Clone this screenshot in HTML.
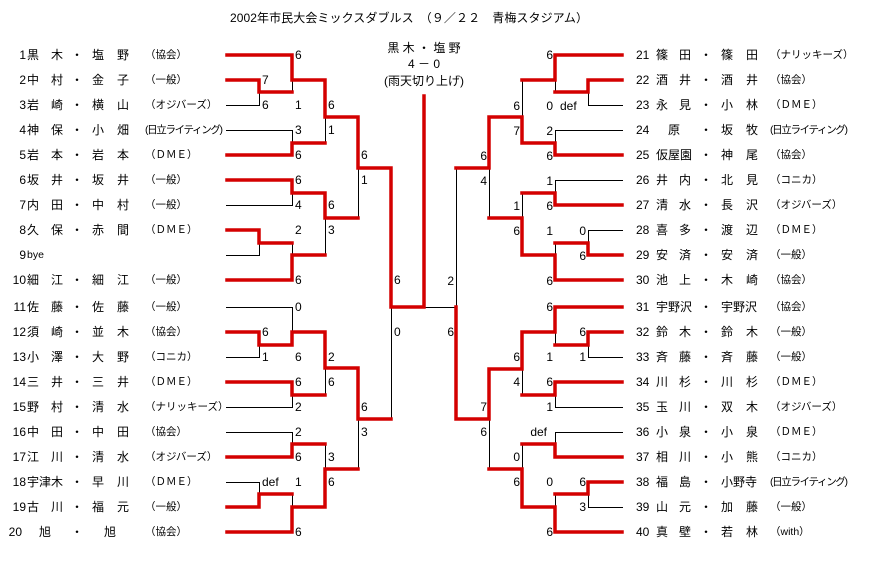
<!DOCTYPE html>
<html><head><meta charset="utf-8"><style>
html,body{margin:0;padding:0;background:#fff;width:882px;height:575px;overflow:hidden}
svg{display:block}
text{font-family:"Liberation Sans","Noto Sans CJK JP",sans-serif;font-size:12px;fill:#000;dominant-baseline:central}
.n{font-family:"Liberation Sans","Noto Sans CJK JP",sans-serif;font-size:12px}
.a{font-size:10.5px}
.r{fill:none;stroke:#d40000;stroke-width:3.5;stroke-linejoin:miter;stroke-linecap:square}
.t{fill:none;stroke:#000;stroke-width:1}
</style></head><body>
<svg width="882" height="575" viewBox="0 0 882 575" xmlns="http://www.w3.org/2000/svg">
<text x="230" y="18" textLength="358">2002年市民大会ミックスダブルス　（９／２２　青梅スタジアム）</text>
<text x="424" y="48" text-anchor="middle">黒 木 ・ 塩 野</text>
<text x="424" y="64" text-anchor="middle">4 － 0</text>
<text x="424" y="81" text-anchor="middle">(雨天切り上げ)</text>

<!-- thin lines -->
<g class="t">
<path d="M226 105.5H259.5V92 M292.5 80V92 M226 130.5H292.5V143 M325.5 117V143 M292.5 193V205.5H226 M226 255.5H259.5V243 M292.5 243V255 M325.5 218V255 M358.5 168V218 M391.5 307V419"/>
<path d="M226 307.5H292.5V332 M226 357.5H259.5V345 M292.5 395V407.5H226 M325.5 368V395 M226 432.5H292.5V444 M325.5 444V469 M226 482.5H259.5V494 M292.5 494V507 M358.5 419V469"/>
<path d="M555.5 80V92 M623 105.5H588.5V92 M623 130.5H555.5V143 M522.5 80V117 M623 180.5H555.5V193 M623 230.5H588.5V243 M555.5 243V255 M522.5 193V218 M489.5 168V218 M456.5 168V307.5H424"/>
<path d="M555.5 332V345 M623 357.5H588.5V345 M522.5 369V395 M623 407.5H555.5V395 M623 432.5H555.5V444 M522.5 444V469 M489.5 419V469 M588.5 494V507.5H623 M555.5 494V507"/>
</g>
<!-- red lines -->
<g class="r">
<path d="M227 55H292V80H325V117H358V168H391V307H424V96"/>
<path d="M227 80H259V92H292"/>
<path d="M227 155H292V143H325"/>
<path d="M227 180H292V193H325V218H358"/>
<path d="M227 230H259V243H292"/>
<path d="M227 280H292V255H325"/>
<path d="M227 332H259V345H292V332H325V368H358V419H391"/>
<path d="M227 382H292V395H325"/>
<path d="M227 457H292V444H325"/>
<path d="M227 507H259V494H292"/>
<path d="M227 532H292V507H325V469H358"/>
<path d="M622 55H555V80H522"/>
<path d="M622 80H588V92H555"/>
<path d="M622 155H555V143H522V117H489V168H456"/>
<path d="M622 205H555V193H522"/>
<path d="M622 255H588V243H555"/>
<path d="M622 280H555V255H522V218H489"/>
<path d="M622 307H555V332H522V369H489V419H456V307"/>
<path d="M622 332H588V345H555"/>
<path d="M622 382H555V395H522"/>
<path d="M622 457H555V444H522"/>
<path d="M622 482H588V494H555"/>
<path d="M622 532H555V507H522V469H489"/>
</g>

<!-- left scores -->
<g>
<text x="295" y="55">6</text><text x="295" y="105">1</text><text x="295" y="130">3</text><text x="295" y="155">6</text>
<text x="295" y="180">6</text><text x="295" y="205">4</text><text x="295" y="230">2</text><text x="295" y="280">6</text>
<text x="262" y="80">7</text><text x="262" y="105">6</text>
<text x="328" y="105">6</text><text x="328" y="130">1</text><text x="328" y="205">6</text><text x="328" y="230">3</text>
<text x="361" y="155">6</text><text x="361" y="180">1</text>
<text x="394" y="280">6</text><text x="394" y="332">0</text>
<text x="295" y="307">0</text><text x="295" y="357">6</text><text x="295" y="382">6</text><text x="295" y="407">2</text>
<text x="295" y="432">2</text><text x="295" y="457">6</text><text x="295" y="482">1</text><text x="295" y="532">6</text>
<text x="262" y="332">6</text><text x="262" y="357">1</text><text x="262" y="482">def</text>
<text x="328" y="357">2</text><text x="328" y="382">6</text><text x="328" y="457">3</text><text x="328" y="482">6</text>
<text x="361" y="407">6</text><text x="361" y="432">3</text>
</g>
<!-- right scores -->
<g text-anchor="end">
<text x="454" y="281">2</text><text x="454" y="332">6</text>
<text x="553" y="55">6</text><text x="520" y="106">6</text><text x="553" y="106">0</text>
<text x="520" y="131">7</text><text x="553" y="131">2</text><text x="553" y="156">6</text>
<text x="487" y="156">6</text><text x="487" y="181">4</text>
<text x="553" y="181">1</text><text x="553" y="206">6</text>
<text x="520" y="206">1</text><text x="520" y="231">6</text>
<text x="553" y="231">1</text><text x="586" y="231">0</text><text x="586" y="256">6</text>
<text x="553" y="281">6</text>
<text x="553" y="307">6</text><text x="586" y="332">6</text><text x="520" y="357">6</text><text x="553" y="357">1</text><text x="586" y="357">1</text>
<text x="520" y="382">4</text><text x="553" y="382">6</text><text x="553" y="407">1</text>
<text x="487" y="407">7</text><text x="487" y="432">6</text><text x="547" y="432">def</text>
<text x="520" y="457">0</text><text x="520" y="482">6</text><text x="553" y="482">0</text><text x="586" y="482">6</text>
<text x="586" y="507">3</text><text x="553" y="532">6</text>
</g>
<text x="560" y="106">def</text>

<!-- left names -->
<g>
<text x="26" y="55" text-anchor="end">1</text><text x="27 51 71 92 117" y="55">黒木・塩野</text><text class="a" x="145" y="55">（協会）</text>
<text x="26" y="80" text-anchor="end">2</text><text x="27 51 71 92 117" y="80">中村・金子</text><text class="a" x="145" y="80">（一般）</text>
<text x="26" y="105" text-anchor="end">3</text><text x="27 51 71 92 117" y="105">岩崎・横山</text><text class="a" x="145" y="105">（オジバーズ）</text>
<text x="26" y="130" text-anchor="end">4</text><text x="27 51 71 92 117" y="130">神保・小畑</text><text class="a" x="145" y="130" textLength="78">(日立ライティング)</text>
<text x="26" y="155" text-anchor="end">5</text><text x="27 51 71 92 117" y="155">岩本・岩本</text><text class="a" x="145" y="155">（ＤＭＥ）</text>
<text x="26" y="180" text-anchor="end">6</text><text x="27 51 71 92 117" y="180">坂井・坂井</text><text class="a" x="145" y="180">（一般）</text>
<text x="26" y="205" text-anchor="end">7</text><text x="27 51 71 92 117" y="205">内田・中村</text><text class="a" x="145" y="205">（一般）</text>
<text x="26" y="230" text-anchor="end">8</text><text x="27 51 71 92 117" y="230">久保・赤間</text><text class="a" x="145" y="230">（ＤＭＥ）</text>
<text x="26" y="255" text-anchor="end">9</text><text class="a" x="27" y="255">bye</text>
<text x="26" y="280" text-anchor="end">10</text><text x="27 51 71 92 117" y="280">細江・細江</text><text class="a" x="145" y="280">（一般）</text>
<text x="26" y="307" text-anchor="end">11</text><text x="27 51 71 92 117" y="307">佐藤・佐藤</text><text class="a" x="145" y="307">（一般）</text>
<text x="26" y="332" text-anchor="end">12</text><text x="27 51 71 92 117" y="332">須崎・並木</text><text class="a" x="145" y="332">（協会）</text>
<text x="26" y="357" text-anchor="end">13</text><text x="27 51 71 92 117" y="357">小澤・大野</text><text class="a" x="145" y="357">（コニカ）</text>
<text x="26" y="382" text-anchor="end">14</text><text x="27 51 71 92 117" y="382">三井・三井</text><text class="a" x="145" y="382">（ＤＭＥ）</text>
<text x="26" y="407" text-anchor="end">15</text><text x="27 51 71 92 117" y="407">野村・清水</text><text class="a" x="145" y="407">（ナリッキーズ）</text>
<text x="26" y="432" text-anchor="end">16</text><text x="27 51 71 92 117" y="432">中田・中田</text><text class="a" x="145" y="432">（協会）</text>
<text x="26" y="457" text-anchor="end">17</text><text x="27 51 71 92 117" y="457">江川・清水</text><text class="a" x="145" y="457">（オジバーズ）</text>
<text x="26" y="482" text-anchor="end">18</text><text x="27 39 51 71 92 117" y="482">宇津木・早川</text><text class="a" x="145" y="482">（ＤＭＥ）</text>
<text x="26" y="507" text-anchor="end">19</text><text x="27 51 71 92 117" y="507">古川・福元</text><text class="a" x="145" y="507">（一般）</text>
<text x="22" y="532" text-anchor="end">20</text><text x="39 71 104" y="532">旭・旭</text><text class="a" x="145" y="532">（協会）</text>
</g>
<!-- right names -->
<g>
<text x="636" y="55">21</text><text x="656 679 700 721 746" y="55">篠田・篠田</text><text class="a" x="770" y="55">（ナリッキーズ）</text>
<text x="636" y="80">22</text><text x="656 679 700 721 746" y="80">酒井・酒井</text><text class="a" x="770" y="80">（協会）</text>
<text x="636" y="105">23</text><text x="656 679 700 721 746" y="105">永見・小林</text><text class="a" x="770" y="105">（ＤＭＥ）</text>
<text x="636" y="130">24</text><text x="668 700 721 746" y="130">原・坂牧</text><text class="a" x="770" y="130" textLength="78">(日立ライティング)</text>
<text x="636" y="155">25</text><text x="656 668 680 700 721 746" y="155">仮屋園・神尾</text><text class="a" x="770" y="155">（協会）</text>
<text x="636" y="180">26</text><text x="656 679 700 721 746" y="180">井内・北見</text><text class="a" x="770" y="180">（コニカ）</text>
<text x="636" y="205">27</text><text x="656 679 700 721 746" y="205">清水・長沢</text><text class="a" x="770" y="205">（オジバーズ）</text>
<text x="636" y="230">28</text><text x="656 679 700 721 746" y="230">喜多・渡辺</text><text class="a" x="770" y="230">（ＤＭＥ）</text>
<text x="636" y="255">29</text><text x="656 679 700 721 746" y="255">安済・安済</text><text class="a" x="770" y="255">（一般）</text>
<text x="636" y="280">30</text><text x="656 679 700 721 746" y="280">池上・木崎</text><text class="a" x="770" y="280">（協会）</text>
<text x="636" y="307">31</text><text x="656 668 680 700 721 733 745" y="307">宇野沢・宇野沢</text><text class="a" x="770" y="307">（協会）</text>
<text x="636" y="332">32</text><text x="656 679 700 721 746" y="332">鈴木・鈴木</text><text class="a" x="770" y="332">（一般）</text>
<text x="636" y="357">33</text><text x="656 679 700 721 746" y="357">斉藤・斉藤</text><text class="a" x="770" y="357">（一般）</text>
<text x="636" y="382">34</text><text x="656 679 700 721 746" y="382">川杉・川杉</text><text class="a" x="770" y="382">（ＤＭＥ）</text>
<text x="636" y="407">35</text><text x="656 679 700 721 746" y="407">玉川・双木</text><text class="a" x="770" y="407">（オジバーズ）</text>
<text x="636" y="432">36</text><text x="656 679 700 721 746" y="432">小泉・小泉</text><text class="a" x="770" y="432">（ＤＭＥ）</text>
<text x="636" y="457">37</text><text x="656 679 700 721 746" y="457">相川・小熊</text><text class="a" x="770" y="457">（コニカ）</text>
<text x="636" y="482">38</text><text x="656 679 700 721 733 745" y="482">福島・小野寺</text><text class="a" x="770" y="482" textLength="78">(日立ライティング)</text>
<text x="636" y="507">39</text><text x="656 679 700 721 746" y="507">山元・加藤</text><text class="a" x="770" y="507">（一般）</text>
<text x="636" y="532">40</text><text x="656 679 700 721 746" y="532">真壁・若林</text><text class="a" x="770" y="532">（with）</text>
</g>
</svg>
</body></html>
